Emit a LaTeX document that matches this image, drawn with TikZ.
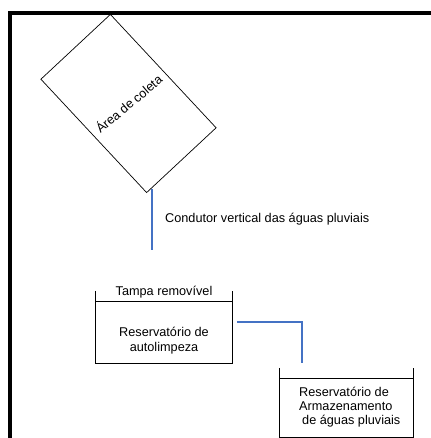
\documentclass[tikz,border=0pt]{standalone}
\usepackage{fontspec}
\setmainfont{Liberation Sans}
\usetikzlibrary{positioning}
\definecolor{cano}{RGB}{68,114,196}
\tikzstyle{area} = [draw, rectangle, minimum width=95pt, minimum height=155pt, rotate=43, line width=0.7pt]
\tikzstyle{tanque} = [rectangle, inner sep=0pt]
\tikzstyle{rotulo} = [inner sep=0pt]
\tikzstyle{parede} = [draw, line width=1pt]
\tikzstyle{tubo} = [draw, cano, line width=2pt]

\begin{document}
\begin{tikzpicture}[x=1pt, y=-1pt, font=\fontsize{12.7}{15.5}\selectfont]
    \useasboundingbox (0,0) rectangle (430,438);
    % moldura
    \draw [line width=4pt] (10,445) -- (10,13) -- (436,13);

    % area de coleta e condutor
    \node [area] (area) at (128.5,103.5) {};
    \node [rotulo, rotate=40] (textoarea) at (area.center) {Área de coleta};
    \coordinate (topo) at (151.5,189);
    \coordinate (fim) at (151.5,250);
    \draw [tubo] (topo) -- (fim);
    \node [rotulo, anchor=west] (condutor) at (165,219) {Condutor vertical das águas pluviais};

    % reservatorio de autolimpeza
    \node [tanque, minimum width=136pt, minimum height=61pt] (auto) at (164,332.5) {};
    \draw [parede] ([yshift=11pt]auto.north west) -- (auto.south west) -- (auto.south east) -- ([yshift=11pt]auto.north east);
    \draw [parede] (auto.north west) -- (auto.north east);
    \node [rotulo, above=3pt of auto.north] (tampa) {Tampa removível};
    \node [rotulo, align=center] (textoauto) at (164,340.5) {Reservatório de\\autolimpeza};

    % reservatorio de armazenamento
    \node [tanque, minimum width=133pt, minimum height=58pt] (armaz) at (346.5,408) {};
    \draw [parede] ([yshift=11pt]armaz.north west) -- (armaz.south west) -- (armaz.south east) -- ([yshift=11pt]armaz.north east);
    \draw [parede] (armaz.north west) -- (armaz.north east);
    \node [rotulo, align=left, anchor=west, font=\fontsize{12.7}{14}\selectfont] (textoarmaz) at (299,407.5) {Reservatório de\\Armazenamento\\\hspace*{3pt}de águas pluviais};

    % ligacao entre reservatorios
    \coordinate (saida) at (237,322);
    \coordinate (entrada) at (302,363);
    \draw [tubo] (saida) -| (entrada);
\end{tikzpicture}
\end{document}
